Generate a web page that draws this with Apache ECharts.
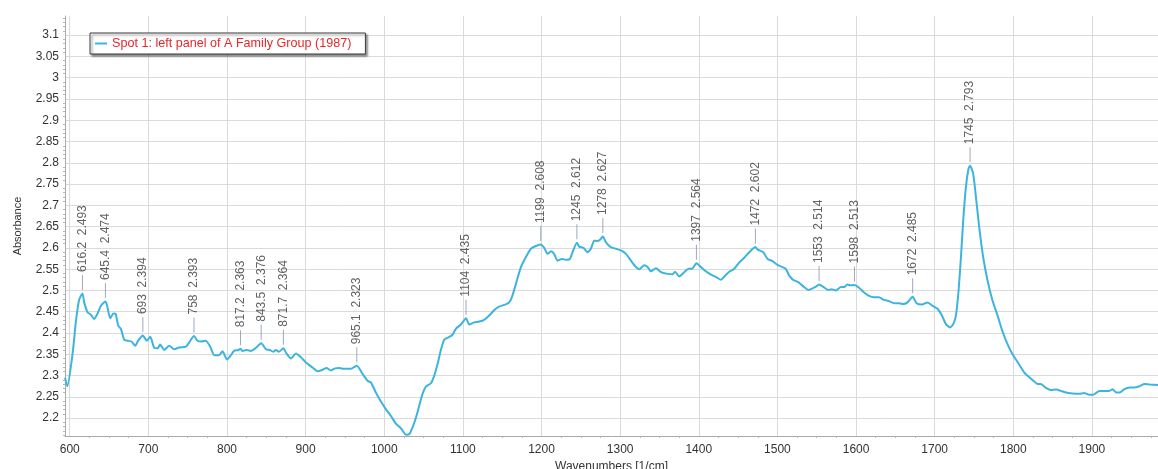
<!DOCTYPE html>
<html>
<head>
<meta charset="utf-8">
<script src="https://cdn.jsdelivr.net/npm/echarts@6/dist/echarts.min.js"></script>
<style>
html,body{margin:0;padding:0;background:#fff;}
#chart{width:1158px;height:469px;}
</style>
</head>
<body>
<div id="chart"></div>
<script>
// Spectrum (wavenumber, absorbance)
const wavenumbers = [594,597,603.6,608,612,616.2,618.4,622.6,627,631,635.4,639.7,645.4,647.3,651.5,655.7,658.5,661.7,665,669.3,673.5,678.6,683.3,687,693,698,702.4,707.5,711.8,715,720.2,726.5,733,739,747.8,752,758,762.5,767.5,773,778.7,783.8,790,794.3,800,805,809,814.5,817.2,819.5,825,830.4,836.7,843.5,849.5,854.5,858.8,862,866,871.7,875.7,881.3,887.7,894,900.4,908.8,915,921,926.6,932,937.7,942,947,953,957.5,965.1,972.4,978.7,983,989.4,995.8,1002,1008.5,1014.8,1021.2,1027.6,1031.8,1036,1040.3,1044.5,1048.7,1053,1059.4,1063.6,1067.8,1072,1076.3,1081.7,1086.8,1091,1097.5,1104,1108,1114.4,1120.8,1127,1133.5,1140,1146,1152.6,1159,1163,1168,1173.8,1180,1186.5,1192,1199,1203.5,1207.7,1212,1216,1220.4,1226,1231,1236,1239.5,1245,1248,1253.4,1258.5,1262.8,1267,1271,1274.3,1278,1282,1288,1294.7,1301,1307.4,1313.7,1320,1324.4,1330.6,1335,1339,1345.5,1352,1360,1366.6,1369.8,1375,1381.5,1387,1391.3,1397,1402.7,1409,1415.5,1422.6,1428,1433.6,1439.6,1445,1451.5,1457.8,1464.2,1472,1474.8,1482,1487.5,1493.8,1500,1506.5,1510.7,1515,1520,1527,1533.3,1539.6,1544.7,1549,1553,1558.7,1565,1569,1574.4,1580.8,1585,1589,1593.5,1598,1603.4,1609.8,1616,1622.5,1629,1635.3,1641.7,1648.6,1655,1660,1665.5,1672,1677,1683.8,1691,1697.3,1703.6,1709.2,1714.3,1719.4,1723.6,1727,1730.4,1733.4,1736.3,1739.7,1743,1745,1749,1752.5,1756.6,1761.7,1767.3,1773.6,1780,1786,1793,1799,1805,1814,1820.3,1826.7,1831,1835,1841.5,1848,1854.4,1860.6,1867,1875.3,1883.8,1890,1896.6,1902,1909.3,1915.6,1922,1926.2,1931,1935.3,1941.2,1947.6,1954,1960.4,1966.8,1973,1984];
const absorbance = [2.295,2.275,2.351,2.429,2.478,2.493,2.472,2.449,2.443,2.433,2.446,2.464,2.474,2.466,2.435,2.446,2.445,2.417,2.410,2.384,2.382,2.380,2.370,2.382,2.394,2.382,2.391,2.365,2.364,2.373,2.360,2.370,2.362,2.366,2.368,2.378,2.393,2.382,2.380,2.382,2.368,2.348,2.348,2.357,2.338,2.348,2.358,2.360,2.363,2.358,2.360,2.358,2.365,2.376,2.362,2.360,2.356,2.360,2.356,2.364,2.352,2.340,2.352,2.343,2.331,2.319,2.310,2.313,2.318,2.312,2.317,2.318,2.316,2.316,2.316,2.323,2.304,2.288,2.284,2.260,2.239,2.221,2.205,2.187,2.176,2.161,2.162,2.178,2.201,2.229,2.257,2.274,2.282,2.300,2.327,2.360,2.384,2.390,2.396,2.410,2.420,2.435,2.420,2.425,2.427,2.431,2.441,2.454,2.462,2.466,2.472,2.488,2.519,2.555,2.578,2.598,2.604,2.608,2.600,2.586,2.592,2.586,2.570,2.574,2.572,2.574,2.590,2.612,2.603,2.600,2.590,2.598,2.617,2.616,2.619,2.627,2.613,2.602,2.598,2.594,2.586,2.570,2.555,2.550,2.559,2.555,2.545,2.552,2.543,2.539,2.538,2.544,2.533,2.543,2.551,2.551,2.564,2.555,2.545,2.537,2.531,2.525,2.535,2.545,2.551,2.566,2.577,2.590,2.602,2.596,2.590,2.574,2.569,2.560,2.555,2.551,2.535,2.525,2.519,2.509,2.501,2.505,2.509,2.514,2.508,2.501,2.503,2.500,2.508,2.508,2.514,2.512,2.513,2.507,2.496,2.488,2.484,2.484,2.478,2.475,2.470,2.470,2.468,2.472,2.485,2.470,2.467,2.472,2.464,2.457,2.441,2.421,2.413,2.421,2.441,2.500,2.578,2.665,2.743,2.786,2.793,2.774,2.719,2.649,2.578,2.523,2.476,2.441,2.405,2.372,2.350,2.333,2.307,2.296,2.286,2.280,2.280,2.271,2.266,2.267,2.264,2.260,2.258,2.257,2.259,2.255,2.255,2.264,2.264,2.264,2.268,2.260,2.260,2.268,2.272,2.272,2.275,2.280,2.279,2.278];

// Peak annotations
const peakX = [616.2,645.4,693,758,817.2,843.5,871.7,965.1,1104,1199,1245,1278,1397,1472,1553,1598,1672,1745];
const peakY = [2.493,2.474,2.394,2.393,2.363,2.376,2.364,2.323,2.435,2.608,2.612,2.627,2.564,2.602,2.514,2.513,2.485,2.793];

const seriesName = 'Spot 1: left panel of A Family Group (1987)';
const xTitle = 'Wavenumbers [1/cm]';
const yTitle = 'Absorbance';

const spectrum = wavenumbers.map((w, i) => [w, absorbance[i]]);
const peaks = peakX.map((w, i) => [w, peakY[i]]);

const font = "'Liberation Sans', Arial, sans-serif";
const chart = echarts.init(document.getElementById('chart'), null, {renderer: 'canvas'});
chart.setOption({
  animation: false,
  backgroundColor: '#ffffff',
  textStyle: {fontFamily: font},
  grid: {left: 65, right: 0, top: 16, bottom: 33, containLabel: false, outerBoundsMode: 'none'},
  legend: {
    show: true,
    data: [seriesName],
    left: 90, top: 33,
    orient: 'horizontal',
    icon: 'rect',
    itemWidth: 12, itemHeight: 2,
    padding: [4, 14, 4, 5],
    backgroundColor: '#ffffff',
    borderColor: '#3a3a3a', borderWidth: 1, borderRadius: 0,
    shadowBlur: 2, shadowColor: 'rgba(0,0,0,0.45)', shadowOffsetX: 2, shadowOffsetY: 2,
    textStyle: {color: '#e8262a', fontSize: 12.6, fontFamily: font, padding: [0,0,0,0]},
    itemStyle: {color: '#3cb4de'}
  },
  xAxis: {
    type: 'value',
    min: 594, max: 1984,
    splitNumber: 14, minInterval: 100, maxInterval: 100,
    name: xTitle, nameLocation: 'middle', nameGap: 20,
    nameTextStyle: {color: '#333', fontSize: 12, fontFamily: font},
    axisLine: {show: true, lineStyle: {color: '#a9a9a9', width: 1}},
    axisTick: {show: false},
    minorTick: {show: true, splitNumber: 4, length: 2, lineStyle: {color: '#b8b8b8'}},
    axisLabel: {color: '#333', fontSize: 12, fontFamily: font, margin: 8, showMinLabel: false, showMaxLabel: false,
      formatter: v => String(v)},
    splitLine: {show: true, showMinLine: false, showMaxLine: false, lineStyle: {color: '#dadada', width: 1}}
  },
  yAxis: {
    type: 'value',
    min: 2.158, max: 3.145,
    splitNumber: 20, minInterval: 0.05, maxInterval: 0.05,
    name: yTitle, nameLocation: 'middle', nameGap: 42, nameRotate: 90,
    nameTextStyle: {color: '#333', fontSize: 11, fontFamily: font},
    axisLine: {show: true, lineStyle: {color: '#a9a9a9', width: 1}},
    axisTick: {show: false},
    minorTick: {show: true, splitNumber: 5, length: 2, lineStyle: {color: '#b8b8b8'}},
    axisLabel: {color: '#333', fontSize: 12, fontFamily: font, margin: 6, showMinLabel: false, showMaxLabel: false,
      formatter: v => String(+v.toFixed(2))},
    splitLine: {show: true, showMinLine: false, showMaxLine: false, lineStyle: {color: '#dadada', width: 1}}
  },
  series: [
    {
      name: seriesName,
      type: 'line',
      data: spectrum,
      symbol: 'none',
      smooth: 0.2,
      lineStyle: {color: '#3cb4de', width: 2},
      itemStyle: {color: '#3cb4de'},
      z: 3
    },
    {
      name: 'peaks',
      type: 'scatter',
      data: peaks,
      symbol: 'rect',
      symbolSize: [1, 15],
      symbolOffset: [0, -11],
      itemStyle: {color: '#8494b2'},
      label: {
        show: true,
        position: 'top',
        distance: 3,
        rotate: 90,
        align: 'left',
        verticalAlign: 'middle',
        color: '#3a3a3a',
        fontSize: 12,
        fontFamily: font,
        formatter: p => p.value[0] + '  ' + p.value[1].toFixed(3)
      },
      silent: true,
      z: 4
    }
  ]
});
</script>
</body>
</html>
